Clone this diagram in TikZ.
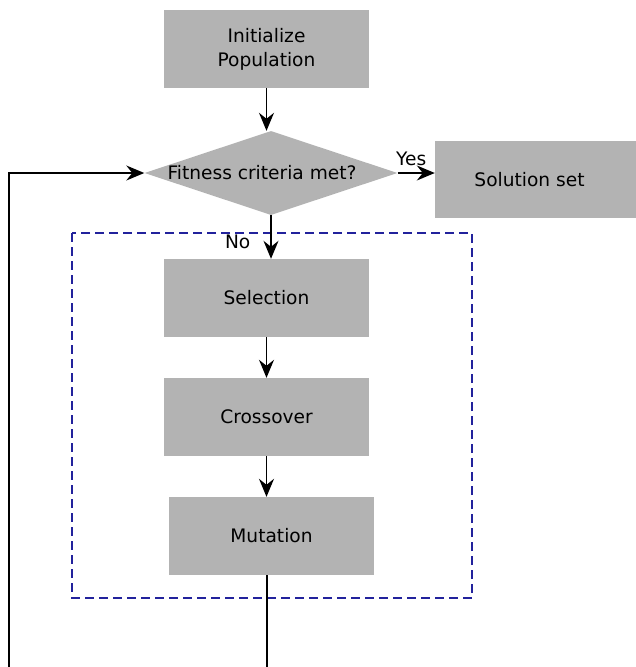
\documentclass[tikz,border=0pt]{standalone}
\usepackage{fontspec}
\setmainfont{DejaVu Sans}
\usetikzlibrary{arrows.meta}
\usetikzlibrary{shapes.geometric}
\definecolor{boxgray}{HTML}{B3B3B3}
\definecolor{loopblue}{HTML}{22229C}

\begin{document}
\begin{tikzpicture}[x=1pt,y=-1pt,font=\fontsize{18.6}{24}\selectfont,
  stepbox/.style={fill=boxgray,minimum width=205pt,minimum height=78pt,inner sep=0pt,align=center},
  decision/.style={diamond,fill=boxgray,aspect=3,minimum width=253pt,minimum height=84pt,inner sep=0pt},
  flow/.style={line width=1.4pt,-{Stealth[length=18pt,width=15pt,inset=6pt]}},
  loopbox/.style={draw=loopblue,line width=1.3pt,dash pattern=on 9pt off 5pt}]
\useasboundingbox (0,0) rectangle (636,667);
\node[stepbox] (init) at (266.5,49) {Initialize\\Population};
\node[decision] (fit) at (271,173) {\hspace*{-18pt}Fitness criteria met?};
\node[stepbox,minimum width=201pt,minimum height=77pt] (sol) at (535.5,179.5) {\hspace*{-12pt}Solution set};
\node[stepbox] (sel) at (266.5,298) {Selection};
\node[stepbox] (cross) at (266.5,417) {Crossover};
\node[stepbox] (mut) at (271.5,536) {Mutation};
\draw[loopbox] (72,233) rectangle (472,598);
\draw[flow] (init.south) -- (init.south |- fit.north);
\draw[flow] (fit.east) -- node[midway,above=7pt,xshift=-5pt,inner sep=0pt]{Yes} (fit.east -| sol.west);
\draw[flow] (fit.south) -- node[pos=0.6,left=20pt,inner sep=0pt]{No} (fit.south |- sel.north);
\draw[flow] (sel) -- (cross);
\draw[flow] (cross.south) -- (cross.south |- mut.north);
\coordinate (down) at (267,667);
\coordinate (back) at (9,667);
\draw[line width=1.4pt] ([xshift=-4.5pt]mut.south) -- (down);
\draw[flow] (back) |- (fit.west);
\end{tikzpicture}
\end{document}
